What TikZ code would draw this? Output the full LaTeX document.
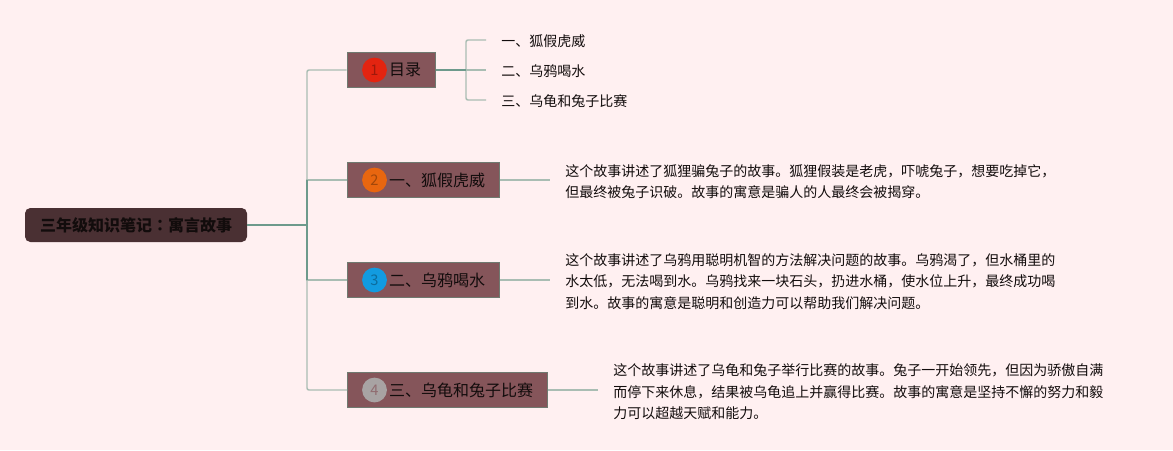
\documentclass[tikz,border=0pt]{standalone}
\usepackage{fontspec}
\setmainfont{Noto Sans CJK SC}
\newfontfamily\colonfont{Noto Sans CJK TC}
\usetikzlibrary{positioning,calc}
\definecolor{Paper}{HTML}{FFF0F1}
\definecolor{Ink}{HTML}{120C0C}
\definecolor{RootFill}{HTML}{4A3033}
\definecolor{TopicFill}{HTML}{85555A}
\definecolor{TopicLine}{HTML}{6F7A70}
\definecolor{Stem}{HTML}{6D9A8C}
\definecolor{Twig}{HTML}{A9BDB3}
\definecolor{NumRed}{HTML}{E32410}
\definecolor{NumOrange}{HTML}{E8660F}
\definecolor{NumBlue}{HTML}{129BE0}
\definecolor{NumGray}{HTML}{A8A3A3}
\tikzset{
  rootbox/.style={fill=RootFill,rounded corners=4pt,minimum width=166.5pt,minimum height=25.5pt,inner sep=0pt,font=\fontsize{12}{14}\selectfont\bfseries,text=Ink},
  topicbox/.style={draw=TopicLine,fill=TopicFill,line width=0.7pt,minimum height=26.5pt,inner sep=0pt},
  topictext/.style={inner sep=0pt,font=\fontsize{12}{14}\selectfont,text=Ink,anchor=west},
  numdot/.style={circle,minimum size=18.6pt,inner sep=0pt,font=\fontsize{11}{12}\selectfont},
  leaftext/.style={inner sep=0pt,anchor=west,font=\fontsize{10.5}{16.1}\selectfont,text=Ink,align=left},
  stemline/.style={draw=Stem,line width=1.1pt},
  twigline/.style={draw=Twig,line width=1.1pt}
}
\begin{document}
\begin{tikzpicture}[x=0.75pt,y=-0.75pt]
  \path[use as bounding box,fill=Paper] (0,0) rectangle (1173,450);
  % connector ends
  \coordinate (trunk) at (307,225);
  \coordinate (fork) at (466,70);
  \coordinate (foxend) at (550,180);
  \coordinate (crowend) at (550,280);
  \coordinate (raceend) at (598,390);
  \coordinate (tocfoxend) at (486,40);
  \coordinate (toccrowend) at (486,70);
  \coordinate (tocraceend) at (486,100);
  % root and topics
  \node[rootbox] (root) at (136,225) {三年级知识笔记{\colonfont\bfseries ：}寓言故事};
  \node[topicbox,minimum width=66.5pt] (toc) at (391.5,70) {};
  \node[topicbox,minimum width=114pt] (fox) at (423.5,180) {};
  \node[topicbox,minimum width=114pt] (crow) at (423.5,280) {};
  \node[topicbox,minimum width=150pt] (race) at (447.5,390) {};
  % number dots
  \node[numdot,fill=NumRed,text=NumRed!70!black] (dota) at (374.5,70) {1};
  \node[numdot,fill=NumOrange,text=NumOrange!70!black] (dotb) at (374.5,180) {2};
  \node[numdot,fill=NumBlue,text=NumBlue!70!black] (dotc) at (374.5,280) {3};
  \node[numdot,fill=NumGray,text=TopicFill!70!NumGray] (dotd) at (374.5,390) {4};
  \node[topictext,right=1.2pt of dota] (toctext) {目录};
  \node[topictext,right=1.2pt of dotb] (foxtext) {一、狐假虎威};
  \node[topictext,right=1.2pt of dotc] (crowtext) {二、乌鸦喝水};
  \node[topictext,right=1.2pt of dotd] (racetext) {三、乌龟和兔子比赛};
  % leaves
  \node[leaftext] (tocfox) at (501,41) {一、狐假虎威};
  \node[leaftext] (toccrow) at (501,71) {二、乌鸦喝水};
  \node[leaftext] (tocrace) at (501,101) {三、乌龟和兔子比赛};
  \node[leaftext] (foxnote) at (565,181.5) {这个故事讲述了狐狸骗兔子的故事。狐狸假装是老虎，吓唬兔子，想要吃掉它，\\但最终被兔子识破。故事的寓意是骗人的人最终会被揭穿。};
  \node[leaftext] (crownote) at (565,281.5) {这个故事讲述了乌鸦用聪明机智的方法解决问题的故事。乌鸦渴了，但水桶里的\\水太低，无法喝到水。乌鸦找来一块石头，扔进水桶，使水位上升，最终成功喝\\到水。故事的寓意是聪明和创造力可以帮助我们解决问题。};
  \node[leaftext] (racenote) at (613,392) {这个故事讲述了乌龟和兔子举行比赛的故事。兔子一开始领先，但因为骄傲自满\\而停下来休息，结果被乌龟追上并赢得比赛。故事的寓意是坚持不懈的努力和毅\\力可以超越天赋和能力。};
  % connectors
  \draw[twigline,rounded corners=1.5pt] (toc.west) -| (trunk);
  \draw[twigline,rounded corners=1.5pt] (race.west) -| (trunk);
  \draw[twigline] (fox.west) -| (trunk);
  \draw[twigline] (crow.west) -| (trunk);
  \draw[stemline] (trunk |- fox.west) -- (trunk |- crow.west);
  \draw[stemline] (root.east) -- (trunk);
  \draw[twigline] (fox.east) -- (foxend);
  \draw[twigline] (crow.east) -- (crowend);
  \draw[twigline] (race.east) -- (raceend);
  \draw[twigline,rounded corners=1.5pt] (tocfoxend) -| (fork);
  \draw[twigline,rounded corners=1.5pt] (tocraceend) -| (fork);
  \draw[twigline] (fork) -- (toccrowend);
  \draw[stemline] (toc.east) -- (fork);
\end{tikzpicture}
\end{document}
